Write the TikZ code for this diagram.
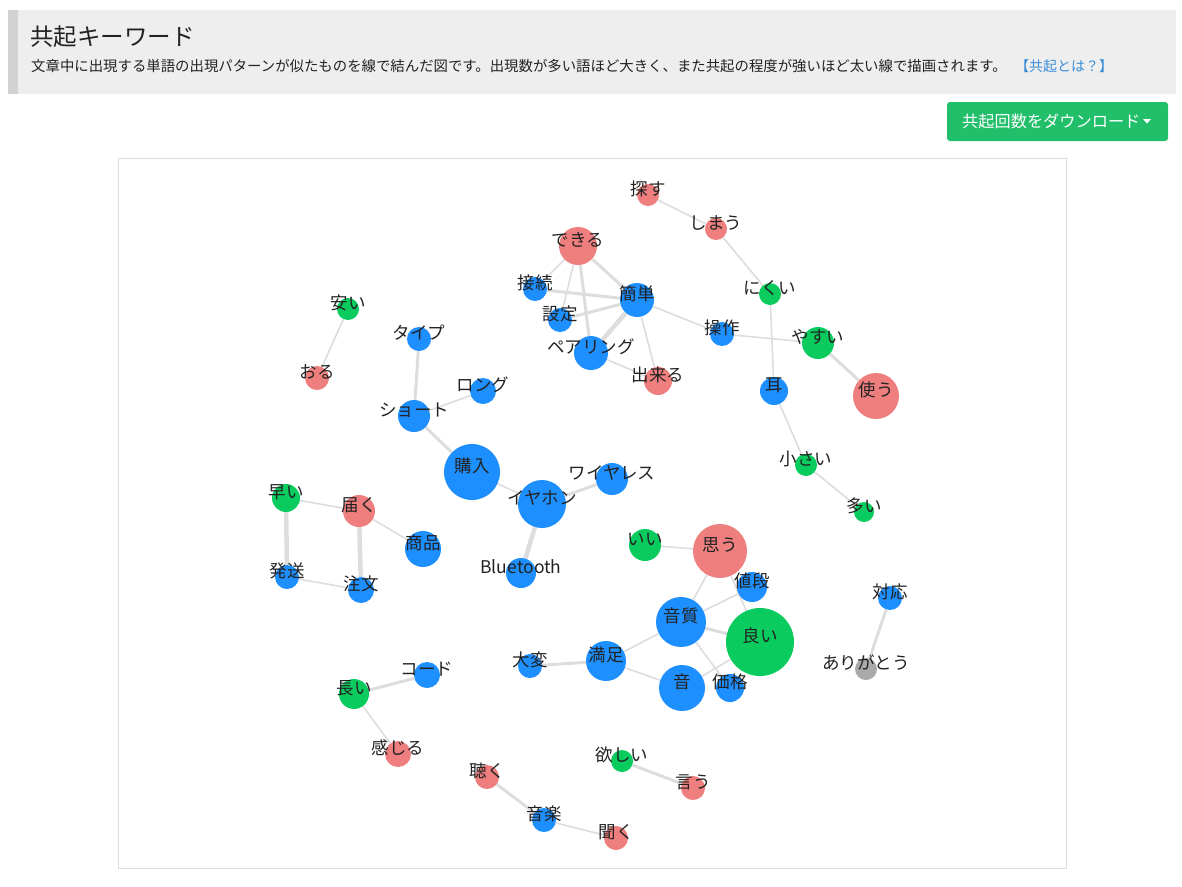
\documentclass[tikz,border=0pt]{standalone}
\usepackage{fontspec}
\setmainfont{Noto Sans CJK JP}
\usetikzlibrary{backgrounds}
\definecolor{kblue}{HTML}{1E8FFF}
\definecolor{kred}{HTML}{EF7F7F}
\definecolor{kgreen}{HTML}{0ACC5E}
\definecolor{kgray}{HTML}{AAAAAA}
\definecolor{edgec}{HTML}{DDDDDD}
\definecolor{hdrbg}{HTML}{EEEEEE}
\definecolor{hdrbar}{HTML}{D2D2D2}
\definecolor{linkc}{HTML}{3A8DD8}
\definecolor{btn}{HTML}{22BF6A}
\definecolor{txt}{HTML}{222222}
\tikzset{
  kwnode/.style={circle,draw=none,inner sep=0pt},
  kwlabel/.style={inner sep=0pt,text=txt,font=\fontsize{17.5}{18}\selectfont},
  ed/.style={draw=edgec,line width=1.6pt},
  edm/.style={draw=edgec,line width=3pt},
  edt/.style={draw=edgec,line width=4.5pt},
}
\newcommand\kw[6]{%
  \node[kwnode,fill=#5,minimum size=2*#4pt] (#1) at (#2,#3) {};
  \node[kwlabel] (#1l) at (#2,#3-6) {#6};}
\begin{document}
\begin{tikzpicture}[x=1pt,y=-1pt]
\useasboundingbox (0,0) rectangle (1182,886);
% header
\fill[hdrbg] (8,10) rectangle (1176,94);
\fill[hdrbar] (8,10) rectangle (18,94);
\node[anchor=west,inner sep=0pt,text=txt,font=\fontsize{23.5}{24}\selectfont] (title) at (30,37) {共起キーワード};
\node[anchor=west,inner sep=0pt,text=txt,font=\fontsize{14.4}{15}\selectfont] (sub) at (31,66) {文章中に出現する単語の出現パターンが似たものを線で結んだ図です。出現数が多い語ほど大きく、また共起の程度が強いほど太い線で描画されます。};
\node[anchor=west,inner sep=0pt,text=linkc,font=\fontsize{14}{14}\selectfont] (link) at (1015,66) {【共起とは？】};
% button
\node[fill=btn,rounded corners=3pt,minimum width=221pt,minimum height=39pt,inner sep=0pt] (btn) at (1057.5,121.5) {};
\node[anchor=west,inner sep=0pt,text=white,font=\fontsize{16.2}{17}\selectfont] (btnt) at (962,121) {共起回数をダウンロード};
\fill[white] (1143,119) -- (1151,119) -- (1147,123.5) -- cycle;
% frame
\draw[draw=edgec,line width=1pt] (118,158) rectangle (1066,868);
% nodes
\kw{sagasu}{648}{195}{11}{kred}{探す}
\kw{shimau}{716}{229}{11}{kred}{しまう}
\kw{dekiru}{578}{246}{19}{kred}{できる}
\kw{setsuzoku}{535}{289}{12}{kblue}{接続}
\kw{kantan}{637}{300}{17}{kblue}{簡単}
\kw{settei}{560}{320}{12}{kblue}{設定}
\kw{pairing}{591}{353}{17}{kblue}{ペアリング}
\kw{dekiru2}{658}{381}{14}{kred}{出来る}
\kw{nikui}{770}{294}{11}{kgreen}{にくい}
\kw{sousa}{722}{334}{12}{kblue}{操作}
\kw{yasui}{818}{343}{16}{kgreen}{やすい}
\kw{mimi}{774}{391}{14}{kblue}{耳}
\kw{tsukau}{876}{396}{23}{kred}{使う}
\kw{chiisai}{806}{465}{11}{kgreen}{小さい}
\kw{ooi}{864}{512}{10}{kgreen}{多い}
\kw{yasui2}{348}{309}{11}{kgreen}{安い}
\kw{type}{419}{339}{12}{kblue}{タイプ}
\kw{oru}{317}{378}{12}{kred}{おる}
\kw{long}{483}{391}{13}{kblue}{ロング}
\kw{short}{414}{416}{16}{kblue}{ショート}
\kw{kounyu}{472}{472}{28}{kblue}{購入}
\kw{earphone}{542}{504}{24}{kblue}{イヤホン}
\kw{wireless}{612}{479}{16}{kblue}{ワイヤレス}
\kw{hayai}{286}{498}{14}{kgreen}{早い}
\kw{todoku}{359}{511}{16}{kred}{届く}
\kw{shouhin}{423}{549}{18}{kblue}{商品}
\kw{hassou}{287}{577}{12}{kblue}{発送}
\kw{chuumon}{361}{590}{13}{kblue}{注文}
\kw{bt}{521}{573}{15}{kblue}{Bluetooth}
\kw{ii}{645}{545}{16}{kgreen}{いい}
\kw{omou}{720}{551}{27}{kred}{思う}
\kw{nedan}{752}{587}{15}{kblue}{値段}
\kw{onshitsu}{681}{622}{25}{kblue}{音質}
\kw{yoi}{760}{642}{34}{kgreen}{良い}
\kw{manzoku}{606}{661}{20}{kblue}{満足}
\kw{taihen}{530}{666}{12}{kblue}{大変}
\kw{oto}{682}{688}{23}{kblue}{音}
\kw{kakaku}{730}{688}{14}{kblue}{価格}
\kw{taiou}{890}{598}{12}{kblue}{対応}
\kw{arigatou}{866}{669}{11}{kgray}{ありがとう}
\kw{code}{427}{675}{13}{kblue}{コード}
\kw{nagai}{354}{694}{15}{kgreen}{長い}
\kw{kanjiru}{398}{754}{13}{kred}{感じる}
\kw{kiku}{487}{777}{12}{kred}{聴く}
\kw{hoshii}{622}{761}{11}{kgreen}{欲しい}
\kw{iu}{693}{788}{12}{kred}{言う}
\kw{ongaku}{544}{820}{12}{kblue}{音楽}
\kw{kiku2}{616}{838}{12}{kred}{聞く}
% edges
\begin{scope}[on background layer]
\draw[ed] (sagasu) -- (shimau);
\draw[ed] (shimau) -- (nikui);
\draw[ed] (nikui) -- (mimi);
\draw[ed] (sousa) -- (yasui);
\draw[ed] (kantan) -- (sousa);
\draw[edm] (yasui) -- (tsukau);
\draw[ed] (mimi) -- (chiisai);
\draw[ed] (chiisai) -- (ooi);
\draw[ed] (dekiru) -- (setsuzoku);
\draw[ed] (dekiru) -- (settei);
\draw[edm] (dekiru) -- (pairing);
\draw[edm] (dekiru) -- (kantan);
\draw[edm] (setsuzoku) -- (kantan);
\draw[edm] (settei) -- (kantan);
\draw[edt] (pairing) -- (kantan);
\draw[ed] (pairing) -- (dekiru2);
\draw[ed] (kantan) -- (dekiru2);
\draw[ed] (yasui2) -- (oru);
\draw[edm] (type) -- (short);
\draw[ed] (short) -- (long);
\draw[edm] (short) -- (kounyu);
\draw[ed] (kounyu) -- (earphone);
\draw[edm] (earphone) -- (wireless);
\draw[edt] (earphone) -- (bt);
\draw[ed] (hayai) -- (todoku);
\draw[edt] (hayai) -- (hassou);
\draw[edt] (todoku) -- (chuumon);
\draw[ed] (todoku) -- (shouhin);
\draw[ed] (hassou) -- (chuumon);
\draw[ed] (ii) -- (omou);
\draw[ed] (omou) -- (onshitsu);
\draw[ed] (omou) -- (yoi);
\draw[ed] (nedan) -- (onshitsu);
\draw[edm] (onshitsu) -- (yoi);
\draw[ed] (onshitsu) -- (manzoku);
\draw[ed] (onshitsu) -- (kakaku);
\draw[edm] (manzoku) -- (taihen);
\draw[ed] (manzoku) -- (oto);
\draw[ed] (oto) -- (yoi);
\draw[edm] (taiou) -- (arigatou);
\draw[edm] (code) -- (nagai);
\draw[ed] (nagai) -- (kanjiru);
\draw[edm] (kiku) -- (ongaku);
\draw[ed] (ongaku) -- (kiku2);
\draw[edm] (hoshii) -- (iu);
\end{scope}
\end{tikzpicture}
\end{document}
